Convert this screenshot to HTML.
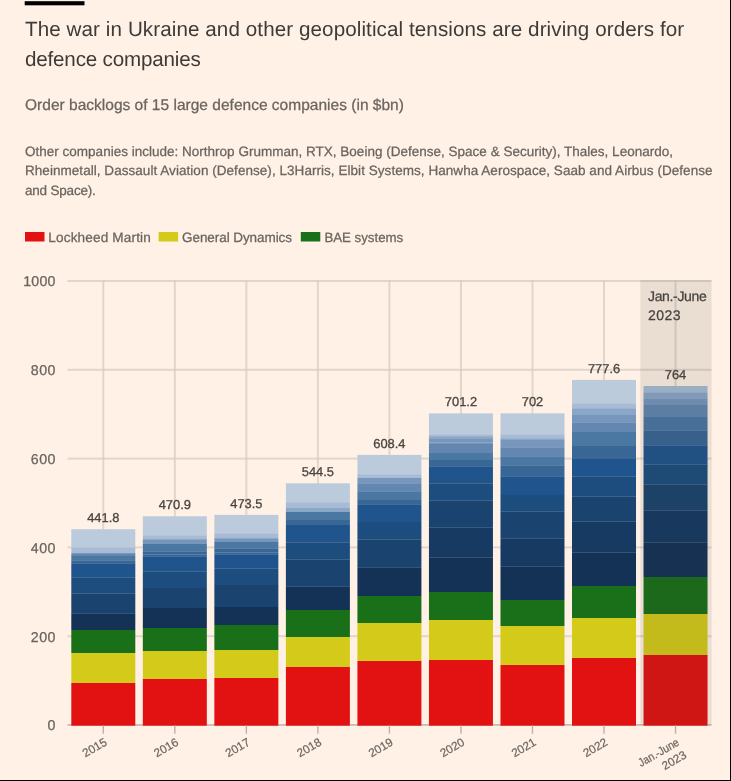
<!DOCTYPE html>
<html><head><meta charset="utf-8"><style>
html,body{margin:0;padding:0;background:#fff1e5;}
body{width:731px;height:781px;overflow:hidden;position:relative;font-family:"Liberation Sans", sans-serif;}
svg{position:absolute;left:0;top:0;will-change:transform;}
text{font-family:"Liberation Sans", sans-serif;text-rendering:geometricPrecision;}
</style></head><body>
<svg width="731" height="781" viewBox="0 0 731 781">
<rect x="0" y="0" width="731" height="781" fill="#fff1e5"/>
<rect x="24.7" y="1.2" width="59.8" height="4.1" fill="#000"/>
<text x="25" y="36" font-size="20.6" textLength="659.2" fill="#3d3a38">The war in Ukraine and other geopolitical tensions are driving orders for</text>
<text x="25" y="66" font-size="20.6" textLength="175.7" fill="#3d3a38">defence companies</text>
<text x="25" y="109.9" font-size="15.5" textLength="378.9" fill="#6a645f" stroke="#6a645f" stroke-width="0.25">Order backlogs of 15 large defence companies (in $bn)</text>
<text x="25" y="155.5" font-size="13.5" textLength="648" fill="#6a645f" stroke="#6a645f" stroke-width="0.25">Other companies include: Northrop Grumman, RTX, Boeing (Defense, Space &amp; Security), Thales, Leonardo,</text>
<text x="25" y="175.3" font-size="13.5" textLength="687.5" fill="#6a645f" stroke="#6a645f" stroke-width="0.25">Rheinmetall, Dassault Aviation (Defense), L3Harris, Elbit Systems, Hanwha Aerospace, Saab and Airbus (Defense</text>
<text x="25" y="195" font-size="13.5" textLength="70.8" fill="#6a645f" stroke="#6a645f" stroke-width="0.25">and Space).</text>
<rect x="25" y="232" width="19.5" height="9.5" fill="#e31212"/>
<text x="48.3" y="242.2" font-size="13.6" textLength="102.5" fill="#6a645f" stroke="#6a645f" stroke-width="0.25">Lockheed Martin</text>
<rect x="158.6" y="232" width="19.5" height="9.5" fill="#d4ca1a"/>
<text x="182" y="242.2" font-size="13.5" textLength="110" fill="#6a645f" stroke="#6a645f" stroke-width="0.25">General Dynamics</text>
<rect x="300.8" y="232" width="19.5" height="9.5" fill="#1a7019"/>
<text x="324.4" y="242.2" font-size="13.3" textLength="78.8" fill="#6a645f" stroke="#6a645f" stroke-width="0.25">BAE systems</text>

<rect x="67.5" y="635.20" width="644" height="2" fill="#e2d6cb"/>
<rect x="67.5" y="546.40" width="644" height="2" fill="#e2d6cb"/>
<rect x="67.5" y="457.60" width="644" height="2" fill="#e2d6cb"/>
<rect x="67.5" y="368.80" width="644" height="2" fill="#e2d6cb"/>
<rect x="67.5" y="280.00" width="644" height="2" fill="#e2d6cb"/>
<rect x="102.30" y="280.00" width="2" height="444.00" fill="#e2d6cb"/>
<rect x="102.30" y="635.20" width="2" height="2" fill="#dbcfc4"/>
<rect x="102.30" y="546.40" width="2" height="2" fill="#dbcfc4"/>
<rect x="102.30" y="457.60" width="2" height="2" fill="#dbcfc4"/>
<rect x="102.30" y="368.80" width="2" height="2" fill="#dbcfc4"/>
<rect x="102.30" y="280.00" width="2" height="2" fill="#dbcfc4"/>
<rect x="173.83" y="280.00" width="2" height="444.00" fill="#e2d6cb"/>
<rect x="173.83" y="635.20" width="2" height="2" fill="#dbcfc4"/>
<rect x="173.83" y="546.40" width="2" height="2" fill="#dbcfc4"/>
<rect x="173.83" y="457.60" width="2" height="2" fill="#dbcfc4"/>
<rect x="173.83" y="368.80" width="2" height="2" fill="#dbcfc4"/>
<rect x="173.83" y="280.00" width="2" height="2" fill="#dbcfc4"/>
<rect x="245.36" y="280.00" width="2" height="444.00" fill="#e2d6cb"/>
<rect x="245.36" y="635.20" width="2" height="2" fill="#dbcfc4"/>
<rect x="245.36" y="546.40" width="2" height="2" fill="#dbcfc4"/>
<rect x="245.36" y="457.60" width="2" height="2" fill="#dbcfc4"/>
<rect x="245.36" y="368.80" width="2" height="2" fill="#dbcfc4"/>
<rect x="245.36" y="280.00" width="2" height="2" fill="#dbcfc4"/>
<rect x="316.89" y="280.00" width="2" height="444.00" fill="#e2d6cb"/>
<rect x="316.89" y="635.20" width="2" height="2" fill="#dbcfc4"/>
<rect x="316.89" y="546.40" width="2" height="2" fill="#dbcfc4"/>
<rect x="316.89" y="457.60" width="2" height="2" fill="#dbcfc4"/>
<rect x="316.89" y="368.80" width="2" height="2" fill="#dbcfc4"/>
<rect x="316.89" y="280.00" width="2" height="2" fill="#dbcfc4"/>
<rect x="388.42" y="280.00" width="2" height="444.00" fill="#e2d6cb"/>
<rect x="388.42" y="635.20" width="2" height="2" fill="#dbcfc4"/>
<rect x="388.42" y="546.40" width="2" height="2" fill="#dbcfc4"/>
<rect x="388.42" y="457.60" width="2" height="2" fill="#dbcfc4"/>
<rect x="388.42" y="368.80" width="2" height="2" fill="#dbcfc4"/>
<rect x="388.42" y="280.00" width="2" height="2" fill="#dbcfc4"/>
<rect x="459.95" y="280.00" width="2" height="444.00" fill="#e2d6cb"/>
<rect x="459.95" y="635.20" width="2" height="2" fill="#dbcfc4"/>
<rect x="459.95" y="546.40" width="2" height="2" fill="#dbcfc4"/>
<rect x="459.95" y="457.60" width="2" height="2" fill="#dbcfc4"/>
<rect x="459.95" y="368.80" width="2" height="2" fill="#dbcfc4"/>
<rect x="459.95" y="280.00" width="2" height="2" fill="#dbcfc4"/>
<rect x="531.48" y="280.00" width="2" height="444.00" fill="#e2d6cb"/>
<rect x="531.48" y="635.20" width="2" height="2" fill="#dbcfc4"/>
<rect x="531.48" y="546.40" width="2" height="2" fill="#dbcfc4"/>
<rect x="531.48" y="457.60" width="2" height="2" fill="#dbcfc4"/>
<rect x="531.48" y="368.80" width="2" height="2" fill="#dbcfc4"/>
<rect x="531.48" y="280.00" width="2" height="2" fill="#dbcfc4"/>
<rect x="603.01" y="280.00" width="2" height="444.00" fill="#e2d6cb"/>
<rect x="603.01" y="635.20" width="2" height="2" fill="#dbcfc4"/>
<rect x="603.01" y="546.40" width="2" height="2" fill="#dbcfc4"/>
<rect x="603.01" y="457.60" width="2" height="2" fill="#dbcfc4"/>
<rect x="603.01" y="368.80" width="2" height="2" fill="#dbcfc4"/>
<rect x="603.01" y="280.00" width="2" height="2" fill="#dbcfc4"/>
<rect x="674.54" y="280.00" width="2" height="444.00" fill="#e2d6cb"/>
<rect x="674.54" y="635.20" width="2" height="2" fill="#dbcfc4"/>
<rect x="674.54" y="546.40" width="2" height="2" fill="#dbcfc4"/>
<rect x="674.54" y="457.60" width="2" height="2" fill="#dbcfc4"/>
<rect x="674.54" y="368.80" width="2" height="2" fill="#dbcfc4"/>
<rect x="674.54" y="280.00" width="2" height="2" fill="#dbcfc4"/>
<rect x="67.5" y="724.2" width="644" height="1.5" fill="#bab2aa"/>
<text x="55.5" y="730.30" font-size="14.2" fill="#6a645f" stroke="#6a645f" stroke-width="0.25" text-anchor="end">0</text>
<text x="55.5" y="641.50" font-size="14.2" textLength="24.8" fill="#6a645f" stroke="#6a645f" stroke-width="0.25" text-anchor="end">200</text>
<text x="55.5" y="552.70" font-size="14.2" textLength="24.8" fill="#6a645f" stroke="#6a645f" stroke-width="0.25" text-anchor="end">400</text>
<text x="55.5" y="463.90" font-size="14.2" textLength="24.8" fill="#6a645f" stroke="#6a645f" stroke-width="0.25" text-anchor="end">600</text>
<text x="55.5" y="375.10" font-size="14.2" textLength="24.8" fill="#6a645f" stroke="#6a645f" stroke-width="0.25" text-anchor="end">800</text>
<text x="55.5" y="286.30" font-size="14.2" textLength="32.3" fill="#6a645f" stroke="#6a645f" stroke-width="0.25" text-anchor="end">1000</text>
<rect x="71.30" y="529.20" width="64.0" height="17.80" fill="#bccbdc"/>
<rect x="71.30" y="547.00" width="64.0" height="6.00" fill="#a7bcd4"/>
<rect x="71.30" y="553.00" width="64.0" height="1.00" fill="#7696bc"/>
<rect x="71.30" y="554.00" width="64.0" height="2.00" fill="#6387b0"/>
<rect x="71.30" y="556.00" width="64.0" height="4.00" fill="#4b77a3"/>
<rect x="71.30" y="560.00" width="64.0" height="3.00" fill="#386796"/>
<rect x="71.30" y="563.00" width="64.0" height="14.00" fill="#20548c"/>
<rect x="71.30" y="577.00" width="64.0" height="16.00" fill="#1c4d7e"/>
<rect x="71.30" y="593.00" width="64.0" height="20.00" fill="#1a446f"/>
<rect x="71.30" y="613.00" width="64.0" height="17.00" fill="#133256"/>
<rect x="71.30" y="630.00" width="64.0" height="23.00" fill="#1a7019"/>
<rect x="71.30" y="653.00" width="64.0" height="30.00" fill="#d4ca1a"/>
<rect x="71.30" y="683.00" width="64.0" height="42.70" fill="#e31212"/>
<rect x="71.30" y="547.00" width="64.0" height="1" fill="#fff" fill-opacity="0.16"/>
<rect x="71.30" y="560.00" width="64.0" height="1" fill="#fff" fill-opacity="0.16"/>
<rect x="71.30" y="563.00" width="64.0" height="1" fill="#fff" fill-opacity="0.16"/>
<rect x="71.30" y="577.00" width="64.0" height="1" fill="#fff" fill-opacity="0.16"/>
<rect x="71.30" y="593.00" width="64.0" height="1" fill="#fff" fill-opacity="0.16"/>
<rect x="71.30" y="613.00" width="64.0" height="1" fill="#fff" fill-opacity="0.16"/>
<text x="103.30" y="522.20" font-size="12.9" fill="#4a4541" stroke="#4a4541" stroke-width="0.3" text-anchor="middle">441.8</text>
<rect x="142.83" y="516.30" width="64.0" height="18.70" fill="#bccbdc"/>
<rect x="142.83" y="535.00" width="64.0" height="4.00" fill="#a7bcd4"/>
<rect x="142.83" y="539.00" width="64.0" height="5.00" fill="#7696bc"/>
<rect x="142.83" y="544.00" width="64.0" height="7.00" fill="#4b77a3"/>
<rect x="142.83" y="551.00" width="64.0" height="3.00" fill="#386796"/>
<rect x="142.83" y="554.00" width="64.0" height="2.00" fill="#386796"/>
<rect x="142.83" y="556.00" width="64.0" height="15.00" fill="#20548c"/>
<rect x="142.83" y="571.00" width="64.0" height="17.00" fill="#1c4d7e"/>
<rect x="142.83" y="588.00" width="64.0" height="20.00" fill="#1a446f"/>
<rect x="142.83" y="608.00" width="64.0" height="20.00" fill="#133256"/>
<rect x="142.83" y="628.00" width="64.0" height="23.00" fill="#1a7019"/>
<rect x="142.83" y="651.00" width="64.0" height="28.00" fill="#d4ca1a"/>
<rect x="142.83" y="679.00" width="64.0" height="46.70" fill="#e31212"/>
<rect x="142.83" y="535.00" width="64.0" height="1" fill="#fff" fill-opacity="0.16"/>
<rect x="142.83" y="539.00" width="64.0" height="1" fill="#fff" fill-opacity="0.16"/>
<rect x="142.83" y="551.00" width="64.0" height="1" fill="#fff" fill-opacity="0.16"/>
<rect x="142.83" y="554.00" width="64.0" height="1" fill="#fff" fill-opacity="0.16"/>
<rect x="142.83" y="556.00" width="64.0" height="1" fill="#fff" fill-opacity="0.16"/>
<rect x="142.83" y="571.00" width="64.0" height="1" fill="#fff" fill-opacity="0.16"/>
<text x="174.83" y="509.30" font-size="12.9" fill="#4a4541" stroke="#4a4541" stroke-width="0.3" text-anchor="middle">470.9</text>
<rect x="214.36" y="514.90" width="64.0" height="18.10" fill="#bccbdc"/>
<rect x="214.36" y="533.00" width="64.0" height="5.00" fill="#a7bcd4"/>
<rect x="214.36" y="538.00" width="64.0" height="4.00" fill="#7696bc"/>
<rect x="214.36" y="542.00" width="64.0" height="6.00" fill="#4b77a3"/>
<rect x="214.36" y="548.00" width="64.0" height="4.00" fill="#386796"/>
<rect x="214.36" y="552.00" width="64.0" height="2.00" fill="#386796"/>
<rect x="214.36" y="554.00" width="64.0" height="14.00" fill="#20548c"/>
<rect x="214.36" y="568.00" width="64.0" height="17.00" fill="#1c4d7e"/>
<rect x="214.36" y="585.00" width="64.0" height="22.00" fill="#1a446f"/>
<rect x="214.36" y="607.00" width="64.0" height="18.00" fill="#133256"/>
<rect x="214.36" y="625.00" width="64.0" height="25.00" fill="#1a7019"/>
<rect x="214.36" y="650.00" width="64.0" height="28.00" fill="#d4ca1a"/>
<rect x="214.36" y="678.00" width="64.0" height="47.70" fill="#e31212"/>
<rect x="214.36" y="533.00" width="64.0" height="1" fill="#fff" fill-opacity="0.16"/>
<rect x="214.36" y="538.00" width="64.0" height="1" fill="#fff" fill-opacity="0.16"/>
<rect x="214.36" y="548.00" width="64.0" height="1" fill="#fff" fill-opacity="0.16"/>
<rect x="214.36" y="552.00" width="64.0" height="1" fill="#fff" fill-opacity="0.16"/>
<rect x="214.36" y="554.00" width="64.0" height="1" fill="#fff" fill-opacity="0.16"/>
<rect x="214.36" y="568.00" width="64.0" height="1" fill="#fff" fill-opacity="0.16"/>
<text x="246.36" y="507.90" font-size="12.9" fill="#4a4541" stroke="#4a4541" stroke-width="0.3" text-anchor="middle">473.5</text>
<rect x="285.89" y="483.30" width="64.0" height="18.70" fill="#bccbdc"/>
<rect x="285.89" y="502.00" width="64.0" height="6.00" fill="#a7bcd4"/>
<rect x="285.89" y="508.00" width="64.0" height="3.00" fill="#8aa6c8"/>
<rect x="285.89" y="511.00" width="64.0" height="1.00" fill="#7696bc"/>
<rect x="285.89" y="512.00" width="64.0" height="8.00" fill="#4b77a3"/>
<rect x="285.89" y="520.00" width="64.0" height="5.00" fill="#386796"/>
<rect x="285.89" y="525.00" width="64.0" height="17.00" fill="#20548c"/>
<rect x="285.89" y="542.00" width="64.0" height="17.00" fill="#1c4d7e"/>
<rect x="285.89" y="559.00" width="64.0" height="27.00" fill="#1a446f"/>
<rect x="285.89" y="586.00" width="64.0" height="24.00" fill="#133256"/>
<rect x="285.89" y="610.00" width="64.0" height="27.00" fill="#1a7019"/>
<rect x="285.89" y="637.00" width="64.0" height="30.00" fill="#d4ca1a"/>
<rect x="285.89" y="667.00" width="64.0" height="58.70" fill="#e31212"/>
<rect x="285.89" y="502.00" width="64.0" height="1" fill="#fff" fill-opacity="0.16"/>
<rect x="285.89" y="511.00" width="64.0" height="1" fill="#fff" fill-opacity="0.16"/>
<rect x="285.89" y="542.00" width="64.0" height="1" fill="#fff" fill-opacity="0.16"/>
<rect x="285.89" y="559.00" width="64.0" height="1" fill="#fff" fill-opacity="0.16"/>
<rect x="285.89" y="586.00" width="64.0" height="1" fill="#fff" fill-opacity="0.16"/>
<text x="317.89" y="476.30" font-size="12.9" fill="#4a4541" stroke="#4a4541" stroke-width="0.3" text-anchor="middle">544.5</text>
<rect x="357.42" y="454.90" width="64.0" height="19.10" fill="#bccbdc"/>
<rect x="357.42" y="474.00" width="64.0" height="4.00" fill="#a7bcd4"/>
<rect x="357.42" y="478.00" width="64.0" height="5.00" fill="#7696bc"/>
<rect x="357.42" y="483.00" width="64.0" height="8.00" fill="#6387b0"/>
<rect x="357.42" y="491.00" width="64.0" height="9.00" fill="#4b77a3"/>
<rect x="357.42" y="500.00" width="64.0" height="4.00" fill="#386796"/>
<rect x="357.42" y="504.00" width="64.0" height="18.00" fill="#20548c"/>
<rect x="357.42" y="522.00" width="64.0" height="17.00" fill="#1c4d7e"/>
<rect x="357.42" y="539.00" width="64.0" height="28.00" fill="#1a446f"/>
<rect x="357.42" y="567.00" width="64.0" height="29.00" fill="#133256"/>
<rect x="357.42" y="596.00" width="64.0" height="27.00" fill="#1a7019"/>
<rect x="357.42" y="623.00" width="64.0" height="38.00" fill="#d4ca1a"/>
<rect x="357.42" y="661.00" width="64.0" height="64.70" fill="#e31212"/>
<rect x="357.42" y="474.00" width="64.0" height="1" fill="#fff" fill-opacity="0.16"/>
<rect x="357.42" y="483.00" width="64.0" height="1" fill="#fff" fill-opacity="0.16"/>
<rect x="357.42" y="491.00" width="64.0" height="1" fill="#fff" fill-opacity="0.16"/>
<rect x="357.42" y="504.00" width="64.0" height="1" fill="#fff" fill-opacity="0.16"/>
<rect x="357.42" y="539.00" width="64.0" height="1" fill="#fff" fill-opacity="0.16"/>
<rect x="357.42" y="567.00" width="64.0" height="1" fill="#fff" fill-opacity="0.16"/>
<text x="389.42" y="447.90" font-size="12.9" fill="#4a4541" stroke="#4a4541" stroke-width="0.3" text-anchor="middle">608.4</text>
<rect x="428.95" y="413.40" width="64.0" height="20.60" fill="#bccbdc"/>
<rect x="428.95" y="434.00" width="64.0" height="2.00" fill="#a7bcd4"/>
<rect x="428.95" y="436.00" width="64.0" height="2.00" fill="#8aa6c8"/>
<rect x="428.95" y="438.00" width="64.0" height="4.00" fill="#7696bc"/>
<rect x="428.95" y="442.00" width="64.0" height="2.00" fill="#7696bc"/>
<rect x="428.95" y="444.00" width="64.0" height="9.00" fill="#6387b0"/>
<rect x="428.95" y="453.00" width="64.0" height="7.00" fill="#4b77a3"/>
<rect x="428.95" y="460.00" width="64.0" height="6.00" fill="#386796"/>
<rect x="428.95" y="466.00" width="64.0" height="17.00" fill="#20548c"/>
<rect x="428.95" y="483.00" width="64.0" height="17.00" fill="#1c4d7e"/>
<rect x="428.95" y="500.00" width="64.0" height="27.00" fill="#1a446f"/>
<rect x="428.95" y="527.00" width="64.0" height="30.00" fill="#163a62"/>
<rect x="428.95" y="557.00" width="64.0" height="35.00" fill="#133256"/>
<rect x="428.95" y="592.00" width="64.0" height="28.00" fill="#1a7019"/>
<rect x="428.95" y="620.00" width="64.0" height="40.00" fill="#d4ca1a"/>
<rect x="428.95" y="660.00" width="64.0" height="65.70" fill="#e31212"/>
<rect x="428.95" y="434.00" width="64.0" height="1" fill="#fff" fill-opacity="0.16"/>
<rect x="428.95" y="436.00" width="64.0" height="1" fill="#fff" fill-opacity="0.16"/>
<rect x="428.95" y="438.00" width="64.0" height="1" fill="#fff" fill-opacity="0.16"/>
<rect x="428.95" y="442.00" width="64.0" height="1" fill="#fff" fill-opacity="0.16"/>
<rect x="428.95" y="466.00" width="64.0" height="1" fill="#fff" fill-opacity="0.16"/>
<rect x="428.95" y="483.00" width="64.0" height="1" fill="#fff" fill-opacity="0.16"/>
<rect x="428.95" y="500.00" width="64.0" height="1" fill="#fff" fill-opacity="0.16"/>
<rect x="428.95" y="527.00" width="64.0" height="1" fill="#fff" fill-opacity="0.16"/>
<rect x="428.95" y="557.00" width="64.0" height="1" fill="#fff" fill-opacity="0.16"/>
<text x="460.95" y="406.40" font-size="12.9" fill="#4a4541" stroke="#4a4541" stroke-width="0.3" text-anchor="middle">701.2</text>
<rect x="500.48" y="413.30" width="64.0" height="20.70" fill="#bccbdc"/>
<rect x="500.48" y="434.00" width="64.0" height="4.00" fill="#a7bcd4"/>
<rect x="500.48" y="438.00" width="64.0" height="2.00" fill="#8aa6c8"/>
<rect x="500.48" y="440.00" width="64.0" height="7.00" fill="#7696bc"/>
<rect x="500.48" y="447.00" width="64.0" height="9.00" fill="#6387b0"/>
<rect x="500.48" y="456.00" width="64.0" height="9.00" fill="#4b77a3"/>
<rect x="500.48" y="465.00" width="64.0" height="11.00" fill="#386796"/>
<rect x="500.48" y="476.00" width="64.0" height="19.00" fill="#20548c"/>
<rect x="500.48" y="495.00" width="64.0" height="16.00" fill="#1c4d7e"/>
<rect x="500.48" y="511.00" width="64.0" height="27.00" fill="#1a446f"/>
<rect x="500.48" y="538.00" width="64.0" height="28.00" fill="#163a62"/>
<rect x="500.48" y="566.00" width="64.0" height="34.00" fill="#133256"/>
<rect x="500.48" y="600.00" width="64.0" height="26.00" fill="#1a7019"/>
<rect x="500.48" y="626.00" width="64.0" height="39.00" fill="#d4ca1a"/>
<rect x="500.48" y="665.00" width="64.0" height="60.70" fill="#e31212"/>
<rect x="500.48" y="434.00" width="64.0" height="1" fill="#fff" fill-opacity="0.16"/>
<rect x="500.48" y="438.00" width="64.0" height="1" fill="#fff" fill-opacity="0.16"/>
<rect x="500.48" y="447.00" width="64.0" height="1" fill="#fff" fill-opacity="0.16"/>
<rect x="500.48" y="456.00" width="64.0" height="1" fill="#fff" fill-opacity="0.16"/>
<rect x="500.48" y="465.00" width="64.0" height="1" fill="#fff" fill-opacity="0.16"/>
<rect x="500.48" y="476.00" width="64.0" height="1" fill="#fff" fill-opacity="0.16"/>
<rect x="500.48" y="511.00" width="64.0" height="1" fill="#fff" fill-opacity="0.16"/>
<rect x="500.48" y="538.00" width="64.0" height="1" fill="#fff" fill-opacity="0.16"/>
<rect x="500.48" y="566.00" width="64.0" height="1" fill="#fff" fill-opacity="0.16"/>
<text x="532.48" y="406.30" font-size="12.9" fill="#4a4541" stroke="#4a4541" stroke-width="0.3" text-anchor="middle">702</text>
<rect x="572.01" y="379.90" width="64.0" height="23.10" fill="#bccbdc"/>
<rect x="572.01" y="403.00" width="64.0" height="5.00" fill="#a7bcd4"/>
<rect x="572.01" y="408.00" width="64.0" height="6.00" fill="#8aa6c8"/>
<rect x="572.01" y="414.00" width="64.0" height="8.00" fill="#7696bc"/>
<rect x="572.01" y="422.00" width="64.0" height="10.00" fill="#6387b0"/>
<rect x="572.01" y="432.00" width="64.0" height="14.00" fill="#4b77a3"/>
<rect x="572.01" y="446.00" width="64.0" height="13.00" fill="#386796"/>
<rect x="572.01" y="459.00" width="64.0" height="17.00" fill="#20548c"/>
<rect x="572.01" y="476.00" width="64.0" height="20.00" fill="#1c4d7e"/>
<rect x="572.01" y="496.00" width="64.0" height="25.00" fill="#1a446f"/>
<rect x="572.01" y="521.00" width="64.0" height="31.00" fill="#163a62"/>
<rect x="572.01" y="552.00" width="64.0" height="34.00" fill="#133256"/>
<rect x="572.01" y="586.00" width="64.0" height="32.00" fill="#1a7019"/>
<rect x="572.01" y="618.00" width="64.0" height="40.00" fill="#d4ca1a"/>
<rect x="572.01" y="658.00" width="64.0" height="67.70" fill="#e31212"/>
<rect x="572.01" y="403.00" width="64.0" height="1" fill="#fff" fill-opacity="0.16"/>
<rect x="572.01" y="408.00" width="64.0" height="1" fill="#fff" fill-opacity="0.16"/>
<rect x="572.01" y="414.00" width="64.0" height="1" fill="#fff" fill-opacity="0.16"/>
<rect x="572.01" y="422.00" width="64.0" height="1" fill="#fff" fill-opacity="0.16"/>
<rect x="572.01" y="476.00" width="64.0" height="1" fill="#fff" fill-opacity="0.16"/>
<rect x="572.01" y="496.00" width="64.0" height="1" fill="#fff" fill-opacity="0.16"/>
<rect x="572.01" y="521.00" width="64.0" height="1" fill="#fff" fill-opacity="0.16"/>
<rect x="572.01" y="552.00" width="64.0" height="1" fill="#fff" fill-opacity="0.16"/>
<text x="604.01" y="372.90" font-size="12.9" fill="#4a4541" stroke="#4a4541" stroke-width="0.3" text-anchor="middle">777.6</text>
<rect x="643.54" y="386.00" width="64.0" height="6.00" fill="#a7bcd4"/>
<rect x="643.54" y="392.00" width="64.0" height="6.00" fill="#8aa6c8"/>
<rect x="643.54" y="398.00" width="64.0" height="7.00" fill="#7696bc"/>
<rect x="643.54" y="405.00" width="64.0" height="12.00" fill="#6387b0"/>
<rect x="643.54" y="417.00" width="64.0" height="13.00" fill="#4b77a3"/>
<rect x="643.54" y="430.00" width="64.0" height="15.00" fill="#386796"/>
<rect x="643.54" y="445.00" width="64.0" height="19.00" fill="#20548c"/>
<rect x="643.54" y="464.00" width="64.0" height="20.00" fill="#1c4d7e"/>
<rect x="643.54" y="484.00" width="64.0" height="26.00" fill="#1a446f"/>
<rect x="643.54" y="510.00" width="64.0" height="32.00" fill="#163a62"/>
<rect x="643.54" y="542.00" width="64.0" height="35.00" fill="#133256"/>
<rect x="643.54" y="577.00" width="64.0" height="37.00" fill="#1a7019"/>
<rect x="643.54" y="614.00" width="64.0" height="41.00" fill="#d4ca1a"/>
<rect x="643.54" y="655.00" width="64.0" height="70.70" fill="#e31212"/>
<rect x="643.54" y="392.00" width="64.0" height="1" fill="#fff" fill-opacity="0.16"/>
<rect x="643.54" y="398.00" width="64.0" height="1" fill="#fff" fill-opacity="0.16"/>
<rect x="643.54" y="430.00" width="64.0" height="1" fill="#fff" fill-opacity="0.16"/>
<rect x="643.54" y="445.00" width="64.0" height="1" fill="#fff" fill-opacity="0.16"/>
<rect x="643.54" y="464.00" width="64.0" height="1" fill="#fff" fill-opacity="0.16"/>
<rect x="643.54" y="484.00" width="64.0" height="1" fill="#fff" fill-opacity="0.16"/>
<rect x="643.54" y="510.00" width="64.0" height="1" fill="#fff" fill-opacity="0.16"/>
<rect x="643.54" y="542.00" width="64.0" height="1" fill="#fff" fill-opacity="0.16"/>
<text x="675.54" y="379.00" font-size="12.9" fill="#4a4541" stroke="#4a4541" stroke-width="0.3" text-anchor="middle">764</text>
<rect x="102.60" y="725.5" width="1.4" height="8.2" fill="#bab2aa"/>
<text transform="translate(107.80,744.6) rotate(-30)" font-size="11.7" fill="#6e6863" stroke="#6e6863" stroke-width="0.25" text-anchor="end">2015</text>
<rect x="174.13" y="725.5" width="1.4" height="8.2" fill="#bab2aa"/>
<text transform="translate(179.33,744.6) rotate(-30)" font-size="11.7" fill="#6e6863" stroke="#6e6863" stroke-width="0.25" text-anchor="end">2016</text>
<rect x="245.66" y="725.5" width="1.4" height="8.2" fill="#bab2aa"/>
<text transform="translate(250.86,744.6) rotate(-30)" font-size="11.7" fill="#6e6863" stroke="#6e6863" stroke-width="0.25" text-anchor="end">2017</text>
<rect x="317.19" y="725.5" width="1.4" height="8.2" fill="#bab2aa"/>
<text transform="translate(322.39,744.6) rotate(-30)" font-size="11.7" fill="#6e6863" stroke="#6e6863" stroke-width="0.25" text-anchor="end">2018</text>
<rect x="388.72" y="725.5" width="1.4" height="8.2" fill="#bab2aa"/>
<text transform="translate(393.92,744.6) rotate(-30)" font-size="11.7" fill="#6e6863" stroke="#6e6863" stroke-width="0.25" text-anchor="end">2019</text>
<rect x="460.25" y="725.5" width="1.4" height="8.2" fill="#bab2aa"/>
<text transform="translate(465.45,744.6) rotate(-30)" font-size="11.7" fill="#6e6863" stroke="#6e6863" stroke-width="0.25" text-anchor="end">2020</text>
<rect x="531.78" y="725.5" width="1.4" height="8.2" fill="#bab2aa"/>
<text transform="translate(536.98,744.6) rotate(-30)" font-size="11.7" fill="#6e6863" stroke="#6e6863" stroke-width="0.25" text-anchor="end">2021</text>
<rect x="603.31" y="725.5" width="1.4" height="8.2" fill="#bab2aa"/>
<text transform="translate(608.51,744.6) rotate(-30)" font-size="11.7" fill="#6e6863" stroke="#6e6863" stroke-width="0.25" text-anchor="end">2022</text>
<rect x="674.84" y="725.5" width="1.4" height="8.2" fill="#bab2aa"/>
<text transform="translate(680.04,744.6) rotate(-30)" font-size="11.7" fill="#6e6863" stroke="#6e6863" stroke-width="0.25" text-anchor="end" textLength="45" lengthAdjust="spacingAndGlyphs">Jan.-June</text>
<text transform="translate(680.04,744.6) rotate(-30) translate(0,14.6)" font-size="11.7" fill="#6e6863" stroke="#6e6863" stroke-width="0.25" text-anchor="end">2023</text>
<rect x="640.3" y="280.00" width="71.3" height="445.00" fill="#33302e" fill-opacity="0.1"/>
<text x="648" y="300.7" font-size="14" textLength="58.8" fill="#46423f" stroke="#46423f" stroke-width="0.25">Jan.-June</text>
<text x="648" y="319.6" font-size="14" textLength="32.6" fill="#46423f" stroke="#46423f" stroke-width="0.25">2023</text>
<rect x="730" y="0" width="1" height="781" fill="#000"/>
<rect x="0" y="780" width="731" height="1" fill="#000"/>
</svg></body></html>
